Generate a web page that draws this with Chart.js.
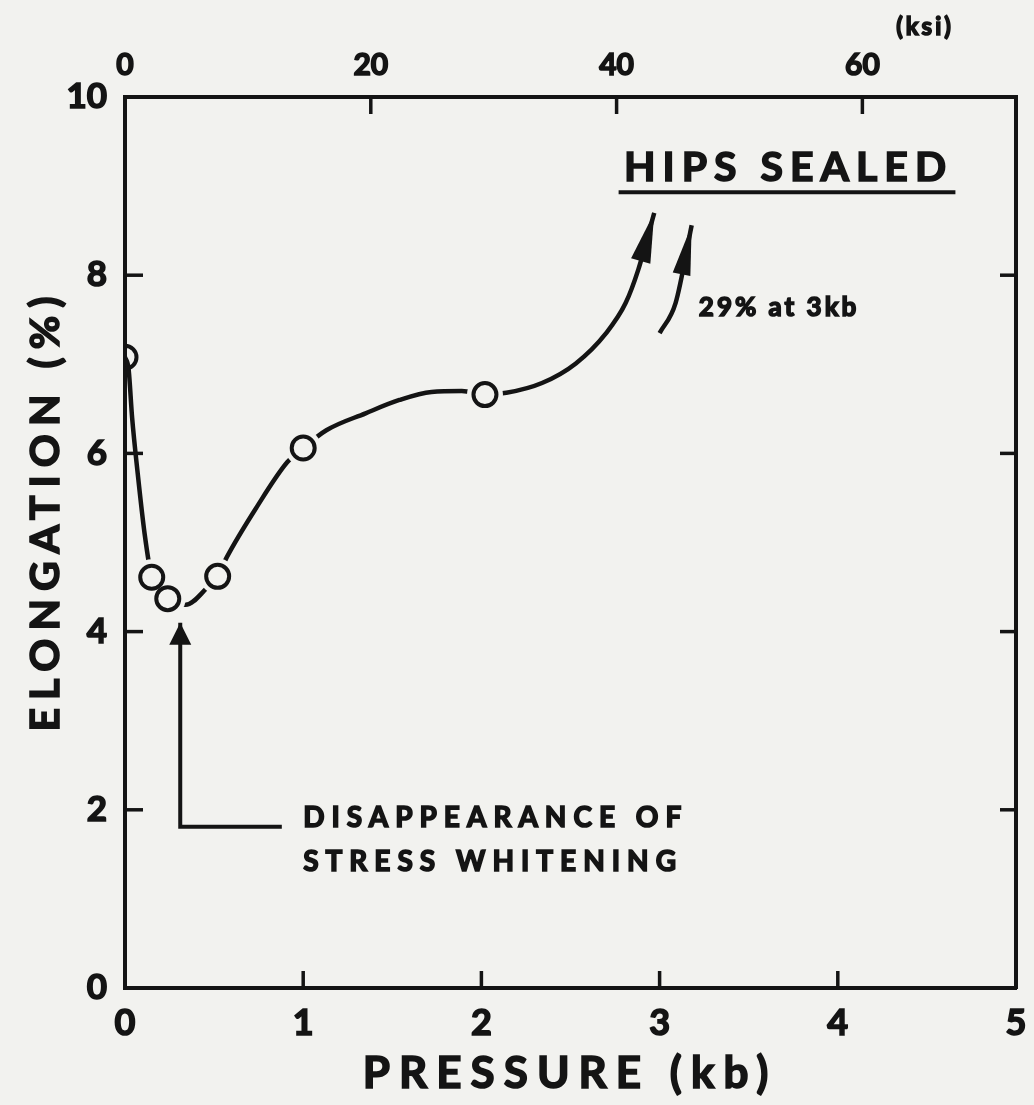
<!DOCTYPE html>
<html>
<head>
<meta charset="utf-8">
<script src="https://cdn.jsdelivr.net/npm/chart.js@4.4.1/dist/chart.umd.min.js"></script>
<style>
  html, body { margin: 0; background: #f2f2ef; }
  #wrap { width: 1034px; height: 1105px; position: relative; }
</style>
</head>
<body>
<div id="wrap"><canvas id="chart"></canvas></div>
<script>
// measured points (open circles)
const PRESSURE_KB = [0, 0.15, 0.24, 0.52, 1.0, 2.02];
const ELONGATION_PCT = [7.08, 4.61, 4.37, 4.62, 6.06, 6.66];

// hand-drawn curve through the points, ending in the arrow toward 29 %
const CURVE_KB = [0, 0.02, 0.04, 0.07, 0.11, 0.15, 0.24, 0.34, 0.46, 0.52, 0.57, 0.74, 0.91, 1.0,
  1.13, 1.35, 1.54, 1.72, 1.89, 2.02, 2.14, 2.34, 2.53, 2.70, 2.81, 2.88, 2.97];
const CURVE_PCT = [7.08, 6.95, 6.4, 5.8, 5.1, 4.61, 4.37, 4.30, 4.49, 4.62, 4.83, 5.40, 5.90, 6.06,
  6.26, 6.45, 6.60, 6.69, 6.70, 6.66, 6.68, 6.79, 7.01, 7.35, 7.69, 8.06, 8.70];

// second arrow ("29% at 3kb")
const OFFSCALE_KB = [3.0, 3.09, 3.18];
const OFFSCALE_PCT = [7.35, 7.69, 8.56];

// L-shaped pointer to the minimum
const WHITENING_KB = [0.88, 0.31, 0.31];
const WHITENING_PCT = [1.81, 1.81, 4.10];

const X_TICKS = [0, 1, 2, 3, 4, 5];
const Y_TICKS = [0, 2, 4, 6, 8, 10];
const KSI_TICKS = [0, 20, 40, 60];
const KSI_PER_KB = 14.5;

const INK = "#141414";
const PAPER = "#f2f2ef";
const FONT = "'Lato', 'DejaVu Sans', sans-serif";
const WEIGHT = "bold";
const HEAVY = 1.6; // extra stroke to get closer to the heavy stencil lettering

const pts = (xs, ys) => xs.map((x, i) => ({ x, y: ys[i] }));
const setTicks = (vals) => (s) => { s.ticks = vals.map((v) => ({ value: v })); };

/* tick marks pointing into the plot, like the original drawing */
const inwardTicks = {
  id: "inwardTicks",
  afterDraw(chart) {
    const { ctx, chartArea: a, scales } = chart;
    ctx.save();
    ctx.strokeStyle = INK; ctx.lineWidth = 3.5;
    const mark = (x1, y1, x2, y2) => { ctx.beginPath(); ctx.moveTo(x1, y1); ctx.lineTo(x2, y2); ctx.stroke(); };
    const inner = (s) => s.ticks.filter((t) => t.value > s.min && t.value < s.max);
    inner(scales.x).forEach((t) => { const p = scales.x.getPixelForValue(t.value); mark(p, a.bottom, p, a.bottom - 17); });
    inner(scales.x2).forEach((t) => { const p = scales.x2.getPixelForValue(t.value); mark(p, a.top, p, a.top + 17); });
    inner(scales.y).forEach((t) => { const p = scales.y.getPixelForValue(t.value); mark(a.left, p, a.left + 18, p); });
    inner(scales.y2).forEach((t) => { const p = scales.y2.getPixelForValue(t.value); mark(a.right, p, a.right - 16, p); });
    ctx.restore();
  },
};

/* filled arrowheads at the end of the pointer lines */
const arrowHeads = {
  id: "arrowHeads",
  afterDatasetsDraw(chart) {
    const { ctx } = chart;
    const heads = [[0, 50, 10], [1, 22, 11], [2, 50, 9]]; // dataset, length, half width
    ctx.save();
    ctx.fillStyle = INK;
    heads.forEach(([i, len, hw]) => {
      const d = chart.getDatasetMeta(i).data;
      const tip = d[d.length - 1], prev = d[d.length - 2];
      const ang = Math.atan2(tip.y - prev.y, tip.x - prev.x);
      const bx = tip.x - len * Math.cos(ang), by = tip.y - len * Math.sin(ang);
      ctx.beginPath();
      ctx.moveTo(tip.x, tip.y);
      ctx.lineTo(bx + hw * Math.sin(ang), by - hw * Math.cos(ang));
      ctx.lineTo(bx - hw * Math.sin(ang), by + hw * Math.cos(ang));
      ctx.closePath();
      ctx.fill();
    });
    ctx.restore();
  },
};

/* axis titles and the lettered notes */
const lettering = {
  id: "lettering",
  afterDraw(chart) {
    const { ctx, scales: { x, y } } = chart;
    const text = (str, px, py, size, spacing, align = "left") => {
      ctx.font = `${WEIGHT} ${size}px ${FONT}`;
      ctx.letterSpacing = spacing + "px";
      ctx.textAlign = align;
      ctx.lineWidth = HEAVY;
      ctx.strokeText(str, px, py);
      ctx.fillText(str, px, py);
    };
    ctx.save();
    ctx.fillStyle = INK; ctx.strokeStyle = INK;
    ctx.textBaseline = "middle";
    text("PRESSURE (kb)", 570, 1074, 44, 9, "center");
    text("(ksi)", 925, 27, 24, 3, "center");
    text("HIPS SEALED", x.getPixelForValue(2.8), y.getPixelForValue(9.2), 41, 7);
    ctx.lineWidth = 4;
    ctx.beginPath();
    ctx.moveTo(x.getPixelForValue(2.77), y.getPixelForValue(8.93));
    ctx.lineTo(x.getPixelForValue(4.66), y.getPixelForValue(8.93));
    ctx.stroke();
    text("29% at 3kb", x.getPixelForValue(3.22), y.getPixelForValue(7.64), 26, 3);
    text("DISAPPEARANCE OF", x.getPixelForValue(1.0), y.getPixelForValue(1.91), 28, 7);
    text("STRESS WHITENING", x.getPixelForValue(1.0), y.getPixelForValue(1.42), 28, 7);
    ctx.translate(46, 510);
    ctx.rotate(-Math.PI / 2);
    text("ELONGATION (%)", 0, 0, 41, 8, "center");
    ctx.restore();
  },
};

const tickFont = (size) => ({ family: FONT, size, weight: WEIGHT });
const tickStyle = { color: INK, textStrokeColor: INK, textStrokeWidth: HEAVY, maxRotation: 0 };
const axisBorder = { display: true, color: INK, width: 4 };

new Chart(document.getElementById("chart"), {
  type: "scatter",
  data: {
    datasets: [
      { data: pts(CURVE_KB, CURVE_PCT), showLine: true, cubicInterpolationMode: "monotone",
        borderColor: INK, borderWidth: 4.5, pointRadius: 0, order: 5 },
      { data: pts(WHITENING_KB, WHITENING_PCT), showLine: true, tension: 0,
        borderColor: INK, borderWidth: 4, pointRadius: 0, order: 5 },
      { data: pts(OFFSCALE_KB, OFFSCALE_PCT), showLine: true, cubicInterpolationMode: "monotone",
        borderColor: INK, borderWidth: 4.5, pointRadius: 0, order: 5 },
      // paper-coloured halos open the small gaps in the curve around each circle
      { data: pts(PRESSURE_KB, ELONGATION_PCT), pointRadius: [0, 18, 18, 18, 18, 18],
        backgroundColor: PAPER, borderWidth: 0, order: 2 },
      { data: pts(PRESSURE_KB, ELONGATION_PCT), pointRadius: 11.5, borderWidth: 4,
        borderColor: INK, backgroundColor: "rgba(0,0,0,0)", order: 1 },
    ],
  },
  options: {
    responsive: true, maintainAspectRatio: false, animation: false,
    layout: { padding: 0 },
    plugins: { legend: { display: false }, tooltip: { enabled: false } },
    scales: {
      x: {
        type: "linear", position: "bottom", min: 0, max: 5,
        grid: { display: false }, border: axisBorder,
        ticks: { ...tickStyle, font: tickFont(36), padding: 6 },
        afterBuildTicks: setTicks(X_TICKS),
        afterFit: (s) => { s.height = 117; },
      },
      x2: {
        type: "linear", position: "top", min: 0, max: 5 * KSI_PER_KB,
        grid: { display: false }, border: axisBorder,
        ticks: { ...tickStyle, font: tickFont(30), padding: 6 },
        afterBuildTicks: setTicks(KSI_TICKS),
        afterFit: (s) => { s.height = 97; },
      },
      y: {
        type: "linear", position: "left", min: 0, max: 10,
        grid: { display: false }, border: axisBorder,
        ticks: { ...tickStyle, font: tickFont(35), padding: 10 },
        afterBuildTicks: setTicks(Y_TICKS),
        afterFit: (s) => { s.width = 125; },
      },
      y2: {
        type: "linear", position: "right", min: 0, max: 10,
        grid: { display: false }, border: axisBorder,
        ticks: { display: false },
        afterBuildTicks: setTicks(Y_TICKS),
        afterFit: (s) => { s.width = 16; },
      },
    },
  },
  plugins: [inwardTicks, arrowHeads, lettering],
});
</script>
</body>
</html>
